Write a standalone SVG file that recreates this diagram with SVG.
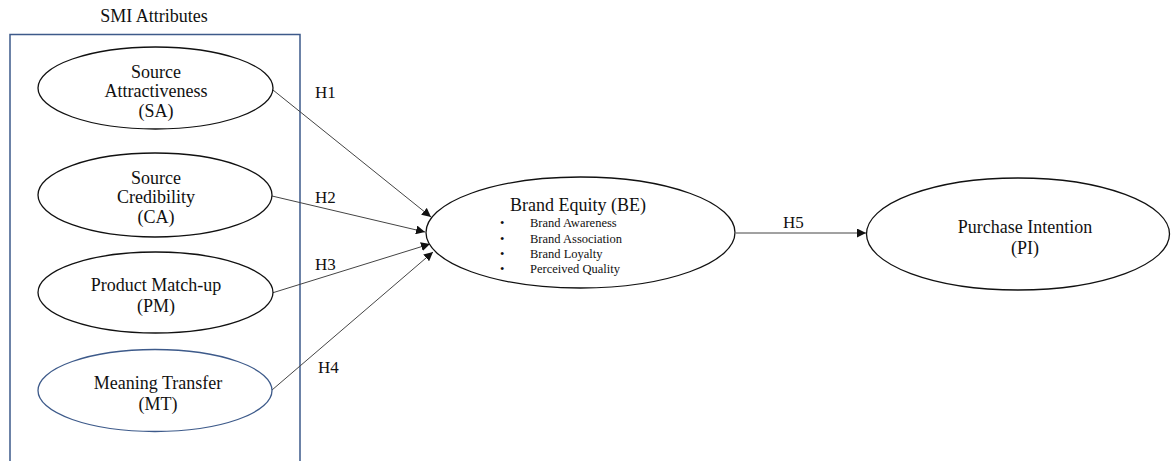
<svg xmlns="http://www.w3.org/2000/svg" width="1171" height="461" viewBox="0 0 1171 461">
<style>
text{font-family:"Liberation Serif","Times New Roman",serif;fill:#111}
.t{font-size:18px;text-anchor:middle}
.h{font-size:17px}
.b{font-size:12.5px}
.node{fill:#fff;stroke:#111;stroke-width:1.3}
.blue{stroke:#3d5a8a}
.conn{stroke:#444;stroke-width:1;fill:none;marker-end:url(#ah)}
</style>
<defs>
<marker id="ah" viewBox="0 0 10 10" refX="10" refY="5" markerWidth="9" markerHeight="9" markerUnits="userSpaceOnUse" orient="auto">
<path d="M0,0 L10,5 L0,10 z" fill="#111"/>
</marker>
</defs>
<g id="smi-box">
<text class="t" x="154" y="22">SMI Attributes</text>
<path d="M10,470 V34.5 H300 V470" fill="none" stroke="#3d5a8a" stroke-width="1.5"/>
</g>
<g id="connectors">
<line class="conn" x1="273" y1="90" x2="431" y2="217"/>
<line class="conn" x1="272" y1="196" x2="425" y2="232"/>
<line class="conn" x1="272" y1="293" x2="430" y2="244"/>
<line class="conn" x1="272" y1="390" x2="433" y2="252"/>
<line class="conn" x1="736" y1="233" x2="866" y2="233"/>
<text class="h" x="315" y="98">H1</text>
<text class="h" x="315" y="203">H2</text>
<text class="h" x="315" y="270">H3</text>
<text class="h" x="318" y="373">H4</text>
<text class="h" x="783" y="228">H5</text>
</g>
<g id="SA">
<ellipse class="node" cx="155.5" cy="88" rx="117.5" ry="41"/>
<text class="t" x="156" y="78">Source</text>
<text class="t" x="156" y="97">Attractiveness</text>
<text class="t" x="156" y="117">(SA)</text>
</g>
<g id="CA">
<ellipse class="node" cx="155" cy="195" rx="117" ry="42"/>
<text class="t" x="156" y="184">Source</text>
<text class="t" x="156" y="203">Credibility</text>
<text class="t" x="156" y="223">(CA)</text>
</g>
<g id="PM">
<ellipse class="node" cx="155.5" cy="292.5" rx="117.5" ry="40.5"/>
<text class="t" x="156" y="291">Product Match-up</text>
<text class="t" x="156" y="312">(PM)</text>
</g>
<g id="MT">
<ellipse class="node blue" cx="155" cy="390.5" rx="117" ry="41"/>
<text class="t" x="158" y="389">Meaning Transfer</text>
<text class="t" x="158" y="410">(MT)</text>
</g>
<g id="BE">
<ellipse class="node" cx="580.5" cy="232.5" rx="154.5" ry="55.5"/>
<text class="t" x="578" y="211">Brand Equity (BE)</text>
<text class="b" x="500" y="227">•</text>
<text class="b" x="530" y="227">Brand Awareness</text>
<text class="b" x="500" y="243">•</text>
<text class="b" x="530" y="243">Brand Association</text>
<text class="b" x="500" y="258">•</text>
<text class="b" x="530" y="258">Brand Loyalty</text>
<text class="b" x="500" y="273">•</text>
<text class="b" x="530" y="273">Perceived Quality</text>
</g>
<g id="PI">
<ellipse class="node" cx="1018" cy="234" rx="151.5" ry="56"/>
<text class="t" x="1025" y="233">Purchase Intention</text>
<text class="t" x="1025" y="254">(PI)</text>
</g>
</svg>
